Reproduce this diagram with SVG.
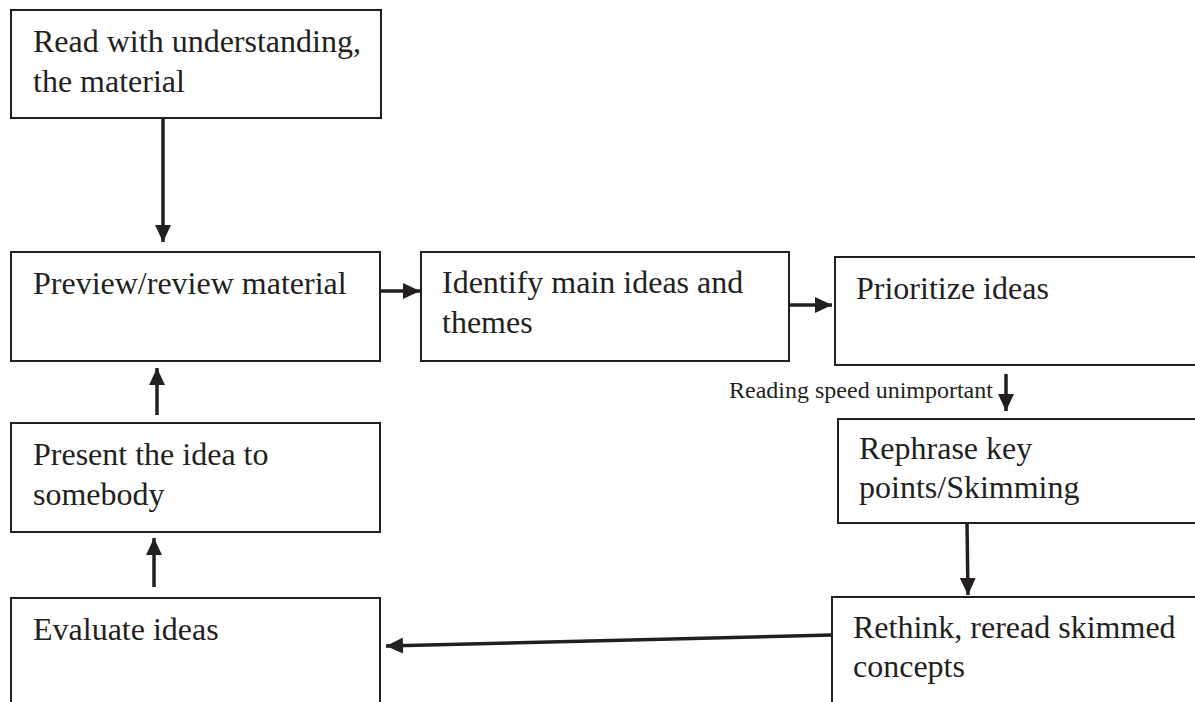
<svg xmlns="http://www.w3.org/2000/svg" width="1195" height="702" viewBox="0 0 1195 702">
<style>
.box{fill:#fff;stroke:#231f20;stroke-width:2}
.t{font-family:"Liberation Serif","Times New Roman",serif;font-size:32px;fill:#231f20}
.s{font-family:"Liberation Serif","Times New Roman",serif;font-size:24px;fill:#231f20}
.c{fill:none;stroke:#231f20;stroke-width:3.5}
</style>
<defs>
<marker id="ah" markerUnits="userSpaceOnUse" markerWidth="18" markerHeight="16" refX="17" refY="8" orient="auto">
<path d="M0,0 L17,8 L0,16 Z" fill="#231f20"/>
</marker>
</defs>
<rect width="1195" height="702" fill="#fff"/>
<g id="n1"><rect class="box" x="11" y="10" width="370" height="108"/><text class="t" x="33" y="52">Read with understanding,</text><text class="t" x="33" y="92">the material</text></g>
<g id="n2"><rect class="box" x="11" y="252" width="369" height="109"/><text class="t" x="33" y="294">Preview/review material</text></g>
<g id="n3"><rect class="box" x="421" y="252" width="368" height="109"/><text class="t" x="442" y="293">Identify main ideas and</text><text class="t" x="442" y="333">themes</text></g>
<g id="n4"><rect class="box" x="835" y="257" width="380" height="108"/><text class="t" x="856" y="299">Prioritize ideas</text></g>
<g id="n5"><rect class="box" x="838" y="419" width="380" height="104"/><text class="t" x="859" y="459">Rephrase key</text><text class="t" x="859" y="498">points/Skimming</text></g>
<g id="n6"><rect class="box" x="832" y="597" width="380" height="120"/><text class="t" x="853" y="638">Rethink, reread skimmed</text><text class="t" x="853" y="677">concepts</text></g>
<g id="n7"><rect class="box" x="11" y="423" width="369" height="109"/><text class="t" x="33" y="465">Present the idea to</text><text class="t" x="33" y="505">somebody</text></g>
<g id="n8"><rect class="box" x="11" y="598" width="369" height="120"/><text class="t" x="33" y="640">Evaluate ideas</text></g>
<g id="connectors">
<line class="c" x1="163" y1="118" x2="163" y2="242" marker-end="url(#ah)"/>
<line class="c" x1="381" y1="291" x2="420" y2="291" marker-end="url(#ah)"/>
<line class="c" x1="790" y1="305" x2="832" y2="305" marker-end="url(#ah)"/>
<line class="c" x1="1006" y1="374" x2="1006" y2="411" marker-end="url(#ah)"/>
<text class="s" x="729" y="398">Reading speed unimportant</text>
<line class="c" x1="967" y1="523" x2="968" y2="595" marker-end="url(#ah)"/>
<line class="c" x1="831" y1="635" x2="386" y2="646" marker-end="url(#ah)"/>
<line class="c" x1="154" y1="587" x2="154" y2="538" marker-end="url(#ah)"/>
<line class="c" x1="157" y1="415" x2="157" y2="368" marker-end="url(#ah)"/>
</g>
</svg>
